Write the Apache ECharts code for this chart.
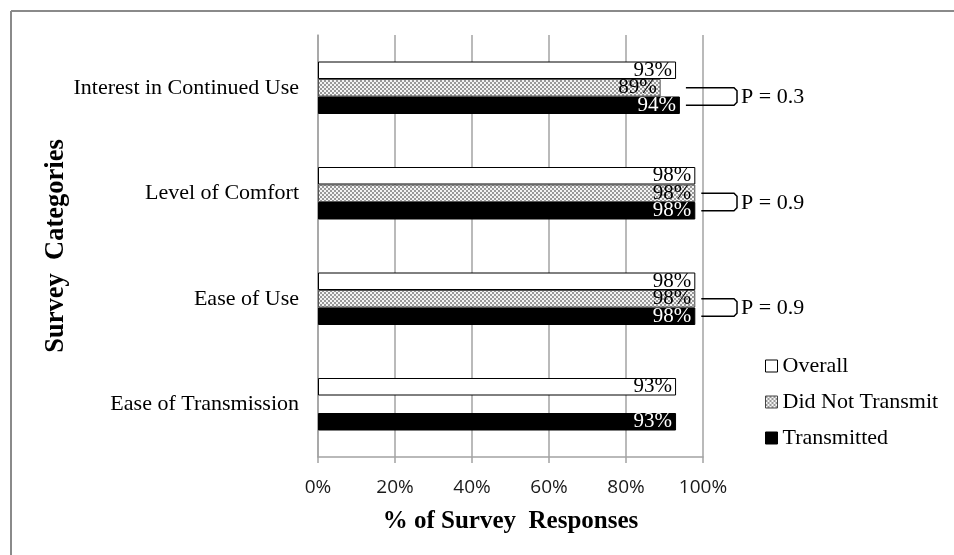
<!DOCTYPE html>
<html><head><meta charset="utf-8">
<script src="https://cdn.jsdelivr.net/npm/echarts@6/dist/echarts.min.js"></script>
<style>html,body{margin:0;padding:0;background:#fff}#c{width:954px;height:555px}</style>
</head><body><div id="c"></div>
<script>
// ---- data ----
const categories = ['Ease of Transmission', 'Ease of Use', 'Level of Comfort', 'Interest in Continued Use'];
const overall = [93, 98, 98, 93];
const didNotTransmit = [null, 98, 98, 89];
const transmitted = [93, 98, 98, 94];
const pValues = [null, 'P = 0.9', 'P = 0.9', 'P = 0.3'];
const xTickStep = 20;

// ---- style constants ----
const SERIF = '"Liberation Serif", "Times New Roman", serif';
const BAR_W = 17.5;
const GRID_COLOR = '#a3a3a3';

const pc = document.createElement('canvas');
pc.width = 4; pc.height = 4;
const g = pc.getContext('2d');
g.fillStyle = '#f4f4f4'; g.fillRect(0, 0, 4, 4);
g.fillStyle = '#999999'; g.fillRect(0, 0, 2, 2); g.fillRect(2, 2, 2, 2);
const dotPattern = { image: pc, repeat: 'repeat' };

const chart = echarts.init(document.getElementById('c'), null, { renderer: 'canvas' });

const bracketData = categories.map((c, i) => [i, didNotTransmit[i] == null ? 0 : didNotTransmit[i], transmitted[i]]);

const labelBase = { show: true, position: 'insideRight', distance: 4, fontFamily: SERIF, fontSize: 21, formatter: '{c}%' };

chart.setOption({
  animation: false,
  backgroundColor: '#fff',
  grid: { left: 318, right: 251, top: 35, bottom: 98, containLabel: false },
  legend: {
    orient: 'vertical', left: 760, top: 350, itemWidth: 12, itemHeight: 12, itemGap: 14, icon: 'rect',
    textStyle: { fontFamily: SERIF, fontSize: 22, color: '#000' },
    data: [
      { name: 'Overall', itemStyle: { color: '#fff', borderColor: '#000', borderWidth: 1 } },
      { name: 'Did Not Transmit', itemStyle: { color: dotPattern, borderColor: '#444', borderWidth: 1 } },
      { name: 'Transmitted', itemStyle: { color: '#000', borderColor: '#000', borderWidth: 1 } }
    ]
  },
  xAxis: {
    type: 'value', min: 0, max: 100, interval: xTickStep,
    name: '% of Survey  Responses', nameLocation: 'middle', nameGap: 52,
    nameTextStyle: { fontFamily: SERIF, fontSize: 25, fontWeight: 'bold', color: '#000' },
    axisLine: { show: true, lineStyle: { color: GRID_COLOR, width: 1.5 } },
    axisTick: { show: true, length: 6, lineStyle: { color: GRID_COLOR, width: 1.5 } },
    axisLabel: { formatter: '{value}%', fontFamily: '"Open Sans", sans-serif', fontSize: 19, color: '#1a1a1a', margin: 21 },
    splitLine: { show: true, lineStyle: { color: GRID_COLOR, width: 1.5 } }
  },
  yAxis: {
    type: 'category', data: categories,
    name: 'Survey  Categories', nameLocation: 'middle', nameRotate: 90, nameGap: 248,
    nameTextStyle: { fontFamily: SERIF, fontSize: 26.5, fontWeight: 'bold', color: '#000' },
    axisLine: { show: true, lineStyle: { color: GRID_COLOR, width: 1.5 } },
    axisTick: { show: false },
    axisLabel: { fontFamily: SERIF, fontSize: 22, color: '#000', margin: 19 },
    splitLine: { show: false }
  },
  series: [
    {
      name: 'Overall', type: 'bar', data: overall, barWidth: BAR_W, barGap: 0,
      itemStyle: { color: '#fff', borderColor: '#000', borderWidth: 1 },
      label: Object.assign({}, labelBase, { color: '#000' })
    },
    {
      name: 'Did Not Transmit', type: 'bar', data: didNotTransmit, barWidth: BAR_W, barGap: 0,
      itemStyle: { color: dotPattern, borderColor: '#555', borderWidth: 1 },
      label: Object.assign({}, labelBase, { color: '#000' })
    },
    {
      name: 'Transmitted', type: 'bar', data: transmitted, barWidth: BAR_W, barGap: 0,
      itemStyle: { color: '#000', borderColor: '#000', borderWidth: 1 },
      label: Object.assign({}, labelBase, { color: '#fff' })
    },
    {
      name: 'brackets', type: 'custom', data: bracketData, encode: { y: 0, x: [1, 2] }, clip: false, z: 5,
      renderItem: function (params, api) {
        const idx = params.dataIndex;
        const text = pValues[idx];
        if (!text) return null;
        const cat = api.value(0);
        const d = api.value(1), t = api.value(2);
        const yc = api.coord([0, cat])[1];
        const y1 = yc;            // middle bar (Did Not Transmit)
        const y2 = yc + BAR_W;    // bottom bar (Transmitted)
        const xs = api.coord([Math.max(d, t), cat])[0] + 6;
        const xe = api.coord([100, cat])[0] + 34;
        return {
          type: 'group',
          children: [
            { type: 'polyline', shape: { points: [[xs, y1], [xe - 3, y1], [xe, y1 + 3], [xe, y2 - 3], [xe - 3, y2], [xs, y2]] },
              style: { fill: null, stroke: '#000', lineWidth: 1.5 } },
            { type: 'text', x: xe + 4, y: (y1 + y2) / 2 + 1,
              style: { text: text, font: '22px ' + SERIF, fill: '#000', verticalAlign: 'middle', align: 'left' } }
          ]
        };
      }
    }
  ],
  graphic: [
    { type: 'line', shape: { x1: 11, y1: 11, x2: 954, y2: 11 }, style: { stroke: '#8a8a8a', lineWidth: 2 } },
    { type: 'line', shape: { x1: 11, y1: 11, x2: 11, y2: 555 }, style: { stroke: '#8a8a8a', lineWidth: 2 } }
  ]
});
</script></body></html>
